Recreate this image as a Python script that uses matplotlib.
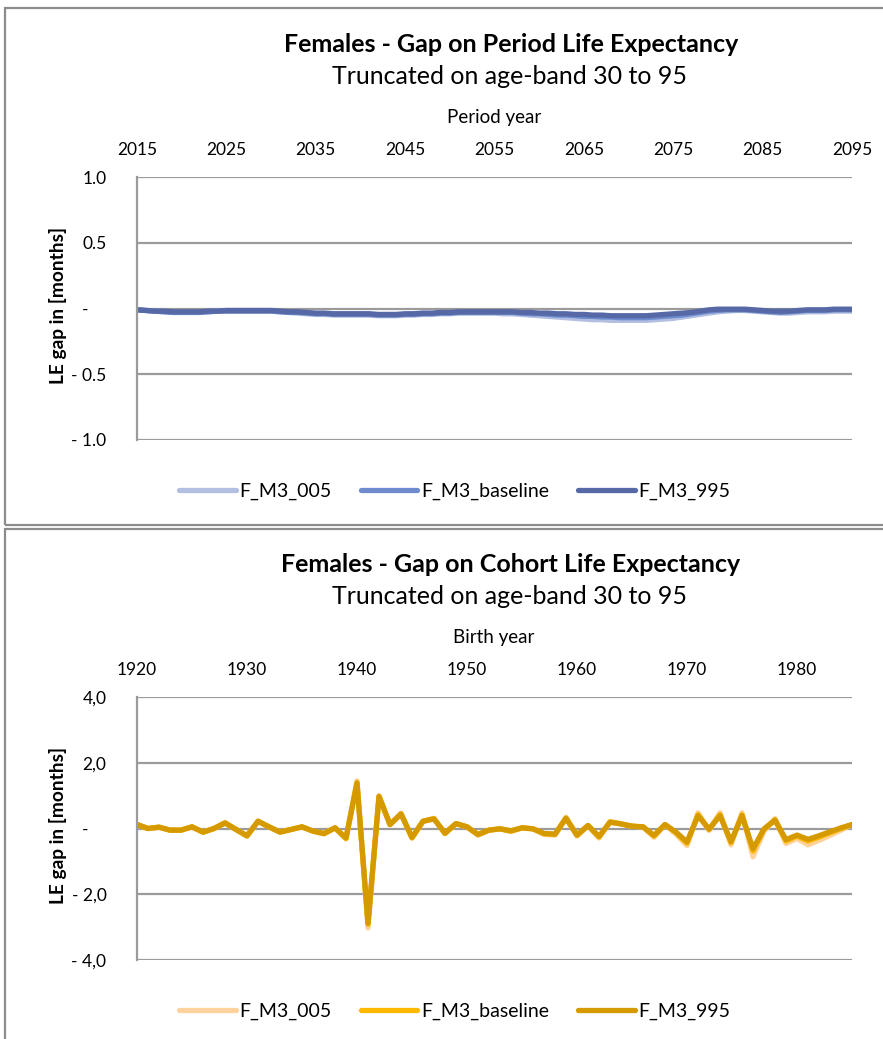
import numpy as np
import matplotlib
matplotlib.use('Agg')
import matplotlib.pyplot as plt
from matplotlib.patches import Rectangle

matplotlib.rcParams['font.family'] = ['Lato', 'DejaVu Sans']

# period chart data (gap in months), years 2015..2095
period_years = list(range(2015, 2096))
per_005 = [-0.01, -0.015, -0.02, -0.025, -0.03, -0.03, -0.03, -0.03, -0.025, -0.02,
           -0.02, -0.02, -0.02, -0.02, -0.02, -0.02, -0.025, -0.03, -0.035, -0.04,
           -0.045, -0.045, -0.05, -0.05, -0.05, -0.05, -0.05, -0.055, -0.055, -0.055,
           -0.05, -0.05, -0.045, -0.045, -0.04, -0.04, -0.035, -0.035, -0.035, -0.035,
           -0.035, -0.04, -0.04, -0.045, -0.05, -0.055, -0.06, -0.065, -0.07, -0.075,
           -0.08, -0.085, -0.085, -0.09, -0.09, -0.09, -0.09, -0.09, -0.085, -0.08,
           -0.075, -0.065, -0.055, -0.045, -0.035, -0.025, -0.02, -0.015, -0.015, -0.02,
           -0.025, -0.03, -0.035, -0.035, -0.03, -0.025, -0.025, -0.025, -0.02, -0.02,
           -0.02]
per_base = [-0.01, -0.015, -0.02, -0.025, -0.03, -0.03, -0.03, -0.03, -0.025, -0.02,
            -0.02, -0.02, -0.02, -0.02, -0.02, -0.02, -0.025, -0.03, -0.03, -0.035,
            -0.04, -0.04, -0.045, -0.045, -0.045, -0.045, -0.045, -0.05, -0.05, -0.05,
            -0.045, -0.045, -0.04, -0.04, -0.035, -0.035, -0.03, -0.03, -0.03, -0.03,
            -0.03, -0.03, -0.03, -0.035, -0.04, -0.04, -0.045, -0.05, -0.05, -0.055,
            -0.06, -0.06, -0.065, -0.065, -0.07, -0.07, -0.07, -0.07, -0.065, -0.06,
            -0.055, -0.05, -0.04, -0.03, -0.02, -0.015, -0.01, -0.01, -0.01, -0.015,
            -0.02, -0.025, -0.03, -0.025, -0.02, -0.015, -0.015, -0.015, -0.01, -0.01,
            -0.01]
per_995 = [-0.01, -0.015, -0.02, -0.02, -0.025, -0.025, -0.025, -0.025, -0.02, -0.02,
           -0.015, -0.015, -0.015, -0.015, -0.015, -0.015, -0.02, -0.025, -0.025, -0.03,
           -0.035, -0.035, -0.04, -0.04, -0.04, -0.04, -0.04, -0.045, -0.045, -0.045,
           -0.04, -0.04, -0.035, -0.035, -0.03, -0.03, -0.025, -0.025, -0.025, -0.025,
           -0.025, -0.025, -0.025, -0.03, -0.03, -0.035, -0.035, -0.04, -0.04, -0.045,
           -0.045, -0.05, -0.05, -0.055, -0.055, -0.055, -0.055, -0.055, -0.05, -0.045,
           -0.04, -0.035, -0.03, -0.02, -0.01, -0.005, -0.005, -0.005, -0.005, -0.01,
           -0.015, -0.02, -0.02, -0.02, -0.015, -0.01, -0.01, -0.01, -0.005, -0.005,
           -0.005]

# cohort chart data (gap in months), birth years 1920..1985
cohort_years = list(range(1920, 1986))
coh_base = [0.12, 0.00, 0.04, -0.05, -0.05, 0.05, -0.11, 0.00, 0.17, -0.03,
            -0.23, 0.22, 0.05, -0.11, -0.03, 0.05, -0.08, -0.16, 0.02, -0.30,
            1.40, -2.92, 0.98, 0.12, 0.45, -0.28, 0.22, 0.30, -0.15, 0.15,
            0.05, -0.19, -0.05, -0.01, -0.08, 0.02, -0.01, -0.16, -0.18, 0.32,
            -0.21, 0.09, -0.26, 0.20, 0.14, 0.07, 0.05, -0.23, 0.12, -0.13,
            -0.45, 0.42, -0.03, 0.42, -0.43, 0.42, -0.69, -0.03, 0.27, -0.38,
            -0.23, -0.38, -0.26, -0.13, 0.00, 0.12]
coh_005 = [0.12, 0.00, 0.04, -0.05, -0.05, 0.05, -0.11, 0.00, 0.17, -0.03,
           -0.23, 0.22, 0.05, -0.11, -0.03, 0.05, -0.08, -0.16, 0.02, -0.32,
           1.45, -3.02, 1.00, 0.12, 0.46, -0.30, 0.22, 0.31, -0.16, 0.15,
           0.05, -0.20, -0.05, -0.01, -0.09, 0.02, -0.01, -0.18, -0.20, 0.34,
           -0.23, 0.09, -0.29, 0.21, 0.14, 0.07, 0.05, -0.27, 0.12, -0.17,
           -0.52, 0.48, -0.06, 0.48, -0.50, 0.48, -0.86, -0.08, 0.30, -0.46,
           -0.30, -0.50, -0.36, -0.21, -0.05, 0.12]
coh_995 = [0.12, 0.00, 0.04, -0.05, -0.05, 0.05, -0.11, 0.00, 0.17, -0.03,
           -0.22, 0.22, 0.05, -0.11, -0.03, 0.05, -0.08, -0.15, 0.02, -0.29,
           1.38, -2.88, 0.97, 0.12, 0.44, -0.27, 0.22, 0.29, -0.14, 0.15,
           0.05, -0.18, -0.05, -0.01, -0.07, 0.02, -0.01, -0.15, -0.17, 0.31,
           -0.20, 0.09, -0.24, 0.19, 0.14, 0.07, 0.05, -0.21, 0.12, -0.11,
           -0.41, 0.39, -0.02, 0.39, -0.40, 0.39, -0.62, -0.01, 0.25, -0.34,
           -0.20, -0.33, -0.22, -0.10, 0.02, 0.12]

labels = ['F_M3_005', 'F_M3_baseline', 'F_M3_995']
blues = ['#b3bfe1', '#6e8ccd', '#5669a6']
golds = ['#fdd29d', '#ffb900', '#d49a00']

W, H = 883, 1039
fig = plt.figure(figsize=(W / 100, H / 100), dpi=100)

def fx(px):
    return px / W

def fy(py):
    return 1 - py / H

grid_col = '#9b9b9b'

# panel borders
fig.patches.append(Rectangle((fx(5), fy(525)), fx(W + 10), fy(8) - fy(525), transform=fig.transFigure,
                             fill=False, edgecolor='#8c8c8c', lw=1.6))
fig.patches.append(Rectangle((fx(5), fy(H + 10)), fx(W + 10), fy(529) - fy(H + 10), transform=fig.transFigure,
                             fill=False, edgecolor='#8c8c8c', lw=1.6))


def draw_panel(top_px, title, xlab, years, series, colors, xlim, xticks, yticks, yticklabels):
    ax = fig.add_axes([fx(137), fy(top_px + 263), fx(852) - fx(137), 263 / H])
    for s, c, lab in zip(series, colors, labels):
        ax.plot(years, s, color=c, lw=3.8, label=lab, solid_capstyle='round', solid_joinstyle='round')
    ax.set_xlim(*xlim)
    ax.set_ylim(yticks[0], yticks[-1])
    ax.set_xticks(xticks)
    ax.xaxis.tick_top()
    ax.set_yticks(yticks)
    ax.set_yticklabels(yticklabels)
    ax.tick_params(axis='both', length=0, labelsize=12.5, colors='black')
    ax.tick_params(axis='x', pad=14)
    ax.tick_params(axis='y', pad=22)
    ax.grid(axis='y', color=grid_col, lw=1.6)
    ax.set_axisbelow(True)
    for sp in ['top', 'right', 'bottom']:
        ax.spines[sp].set_visible(False)
    ax.spines['left'].set_color(grid_col)
    ax.spines['left'].set_linewidth(1.6)
    fig.text(fx(511), fy(top_px - 133), title, ha='center', va='center', fontsize=18, fontweight='bold')
    fig.text(fx(510), fy(top_px - 101), 'Truncated on age-band 30 to 95', ha='center', va='center', fontsize=18)
    fig.text(fx(494), fy(top_px - 59), xlab, ha='center', va='center', fontsize=13.5)
    fig.text(fx(58), fy(top_px + 128), 'LE gap in [months]', ha='center', va='center', rotation=90,
             fontsize=13.8, fontweight='bold')
    handles, labs = ax.get_legend_handles_labels()
    fig.legend(handles, labs, loc='center', bbox_to_anchor=(fx(455), fy(top_px + 314)), ncol=3,
               frameon=False, fontsize=14, handlelength=2.9, handletextpad=0.2, columnspacing=1.5)
    return ax


draw_panel(177, 'Females - Gap on Period Life Expectancy', 'Period year',
           period_years, [per_005, per_base, per_995], blues,
           (2015, 2095), list(range(2015, 2096, 10)),
           [-1.0, -0.5, 0.0, 0.5, 1.0], ['- 1.0', '- 0.5', '-    ', '0.5', '1.0'])

draw_panel(697, 'Females - Gap on Cohort Life Expectancy', 'Birth year',
           cohort_years, [coh_005, coh_base, coh_995], golds,
           (1920, 1985), list(range(1920, 1981, 10)),
           [-4.0, -2.0, 0.0, 2.0, 4.0], ['- 4,0', '- 2,0', '-    ', '2,0', '4,0'])

fig.savefig('out.png', dpi=100)
